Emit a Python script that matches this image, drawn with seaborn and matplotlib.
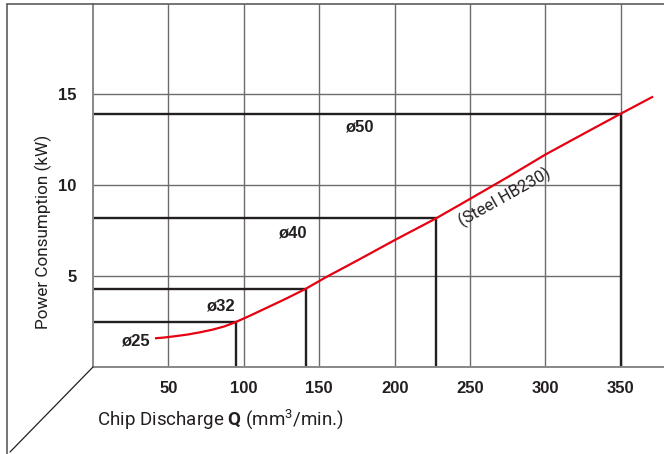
import matplotlib
matplotlib.use("Agg")
import matplotlib.pyplot as plt
import seaborn as sns
import pandas as pd
from matplotlib.lines import Line2D

# ---- data ----
curve_q = [41.1, 47, 55, 63, 71, 79, 87, 94, 104, 115, 128, 141, 154, 175, 200, 227.5,
           250, 275, 300, 325, 350, 371.4]
curve_kw = [1.58, 1.62, 1.70, 1.79, 1.91, 2.05, 2.23, 2.45, 2.82, 3.25, 3.76, 4.30, 4.92,
            5.85, 6.98, 8.18, 9.25, 10.45, 11.69, 12.82, 13.94, 14.88]

diam_labels = ["ø25", "ø32", "ø40", "ø50"]
diam_q = [94.5, 141.2, 227.5, 350]
diam_kw = [2.5, 4.3, 8.18, 13.94]
label_q = [27.9, 84.7, 132.2, 176.6]
label_kw = [1.43, 3.33, 7.37, 13.22]

x_ticks = [50, 100, 150, 200, 250, 300, 350]
y_ticks = [5, 10, 15]
material = "(Steel HB230)"

sns.set_theme(style="white")
plt.rcParams["font.family"] = ["Roboto", "DejaVu Sans"]
plt.rcParams["mathtext.fontset"] = "custom"
plt.rcParams["mathtext.rm"] = "Roboto"
plt.rcParams["mathtext.bf"] = "Roboto:bold"

DARK = "#231f20"
GRID = "#6e6b6b"
RED = "#e60012"
BOLD = ["Liberation Sans", "DejaVu Sans"]

fig = plt.figure(figsize=(6.64, 4.54), dpi=100)
W, H = 664, 454
ax = fig.add_axes([93 / W, (H - 367) / H, (W - 93) / W, (367 - 3.5) / H])
ax.set_xlim(0, 378.6)
ax.set_ylim(0, 20)

# grid
ax.vlines(x_ticks, 0, 20, color=GRID, lw=1.0, zorder=1)
ax.hlines(y_ticks, 0, 350, color=GRID, lw=1.0, zorder=1)

# boxes
for q, kw in zip(diam_q, diam_kw):
    ax.plot([0, q, q], [kw, kw, 0], color=DARK, lw=1.7, zorder=2, solid_joinstyle="miter")

# curve
df = pd.DataFrame({"Q": curve_q, "kW": curve_kw})
sns.lineplot(data=df, x="Q", y="kW", ax=ax, color=RED, lw=1.6, sort=False,
             estimator=None, zorder=3, solid_joinstyle="round", solid_capstyle="butt")

for lab, q, kw in zip(diam_labels, label_q, label_kw):
    ax.text(q, kw, lab, ha="center", va="center", fontsize=12, fontweight="bold",
            family=BOLD, color=DARK, zorder=4)

ax.text(273.2, 9.32, material, rotation=29.3, ha="center", va="center",
        fontsize=12, color=DARK, rotation_mode="anchor", zorder=4)

ax.set_xticks(x_ticks)
ax.set_yticks(y_ticks)
ax.set_xticklabels([str(v) for v in x_ticks], fontsize=12, fontweight="bold",
                   family=BOLD, color=DARK)
ax.set_yticklabels([str(v) for v in y_ticks], fontsize=12, fontweight="bold",
                   family=BOLD, color=DARK)
ax.tick_params(axis="x", length=0, pad=10)
ax.tick_params(axis="y", length=0, pad=12)

for s in ["top", "right"]:
    ax.spines[s].set_visible(False)
for s in ["left", "bottom"]:
    ax.spines[s].set_color("#8a8787")
    ax.spines[s].set_linewidth(1.4)
ax.set_xlabel("")
ax.set_ylabel("")

fig.text(97 / W, 1 - 420 / H, r"Chip Discharge $\mathbf{Q}$ (mm$^3$/min.)", ha="left",
         va="center", fontsize=13.5, color=DARK)
fig.text(43 / W, 1 - 232 / H, "Power Consumption (kW)", rotation=90, ha="center",
         va="center", fontsize=12.3, color=DARK)

# frame decorations
fig.add_artist(Line2D([7 / W, 1], [1 - 3.5 / H, 1 - 3.5 / H], color="#5e5b5b", lw=1.2))
fig.add_artist(Line2D([7 / W, 7 / W], [1 - 3.5 / H, 0], color="#5e5b5b", lw=1.2))
fig.add_artist(Line2D([93 / W, 10 / W], [1 - 367 / H, 1 - 452 / H], color=DARK, lw=0.9))

fig.savefig("out.png", dpi=100)
